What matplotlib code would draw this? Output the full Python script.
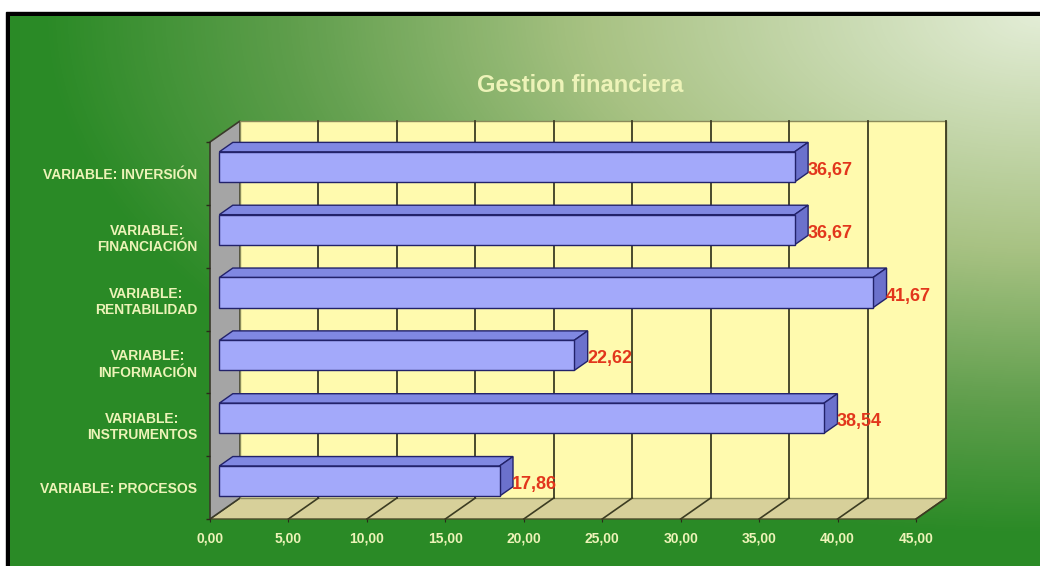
import numpy as np
import matplotlib.pyplot as plt
from matplotlib.patches import Polygon, Rectangle
from matplotlib.colors import LinearSegmentedColormap

plt.rcParams["font.family"] = ["Liberation Sans", "DejaVu Sans"]

categorias = [
    "VARIABLE: INVERSIÓN",
    "VARIABLE:\nFINANCIACIÓN",
    "VARIABLE:\nRENTABILIDAD",
    "VARIABLE:\nINFORMACIÓN",
    "VARIABLE:\nINSTRUMENTOS",
    "VARIABLE: PROCESOS",
]
valores = [36.67, 36.67, 41.67, 22.62, 38.54, 17.86]
x_ticks = [0, 5, 10, 15, 20, 25, 30, 35, 40, 45]
titulo = "Gestion financiera"

W, H = 1040, 566
DEPTH_PX = (30, 21)          # profundidad del efecto 3D en pixeles
BAR_FRONT, BAR_BACK = 0.31, 0.76
BAR_H = 0.48

TXT = "#edf3b8"
EDGE = "#22226a"


def fmt(v):
    return f"{v:.2f}".replace(".", ",")


fig = plt.figure(figsize=(W / 100, H / 100), dpi=100)
fig.patch.set_facecolor("white")

# fondo con degradado verde
bg = fig.add_axes([0, 0, 1, 1])
bg.axis("off")
bg.add_patch(Rectangle((6, 12), W - 6, H - 12, color="black", zorder=0))
gx, gy = np.meshgrid(np.arange(10, W), np.arange(16, H))
t = np.sqrt(((W - gx) / 1000.0) ** 2 + ((gy - 15) / 520.0) ** 2)
cmap = LinearSegmentedColormap.from_list(
    "verde", [(0, "#e3edd6"), (0.45, "#a8c283"), (0.75, "#5f9e4c"), (1, "#2a8a26")])
bg.imshow(np.clip(t, 0, 1), cmap=cmap, vmin=0, vmax=1, extent=(10, W, H, 16),
          aspect="auto", interpolation="bilinear", zorder=1)
bg.set_xlim(0, W)
bg.set_ylim(H, 0)

fig.text(580 / W, 1 - 85 / H, titulo, ha="center", va="center",
         fontsize=17, fontweight="bold", color=TXT)

ax = fig.add_axes([210 / W, (H - 519) / H, 706 / W, 377 / H])
ax.set_xlim(0, 45)
ax.set_ylim(0, 6)
ax.patch.set_visible(False)
for s in ax.spines.values():
    s.set_visible(False)

# desplazamiento de profundidad en unidades de datos
inv = ax.transData.inverted()
p0 = ax.transData.transform((0, 0))
dx, dy = inv.transform(p0 + np.array(DEPTH_PX)) - inv.transform(p0)

xmax, ymax = ax.get_xlim()[1], ax.get_ylim()[1]

# suelo, pared lateral y pared de fondo
ax.add_patch(Polygon([(0, 0), (xmax, 0), (xmax + dx, dy), (dx, dy)],
                     facecolor="#d7d09a", edgecolor="#4a4a2a", lw=1, clip_on=False, zorder=1))
ax.add_patch(Polygon([(0, 0), (0, ymax), (dx, ymax + dy), (dx, dy)],
                     facecolor="#a5a5a5", edgecolor="#3a3a2a", lw=1.2, clip_on=False, zorder=1))
ax.add_patch(Rectangle((dx, dy), xmax, ymax, facecolor="#fffaae",
                       edgecolor="#8a8a5a", lw=1, clip_on=False, zorder=1))
for xv in x_ticks[1:]:
    ax.plot([xv + dx, xv + dx], [dy, ymax + dy], color="#3c3c22", lw=1.3,
            clip_on=False, zorder=2)
    ax.plot([xv, xv + dx], [0, dy], color="#3c3c22", lw=1.2, clip_on=False, zorder=2)

# barras 3D
centros = np.arange(len(valores))[::-1] + 0.5
fx, fy = dx * BAR_FRONT, dy * BAR_FRONT
bx, by = dx * BAR_BACK, dy * BAR_BACK
for c, v in zip(centros, valores):
    y0, y1 = c - BAR_H / 2, c + BAR_H / 2
    ax.add_patch(Polygon([(fx, y1 + fy), (v + fx, y1 + fy), (v + bx, y1 + by), (bx, y1 + by)],
                         facecolor="#8088e2", edgecolor=EDGE, lw=1, clip_on=False, zorder=3))
    ax.add_patch(Polygon([(v + fx, y0 + fy), (v + fx, y1 + fy), (v + bx, y1 + by), (v + bx, y0 + by)],
                         facecolor="#6b71cc", edgecolor=EDGE, lw=1, clip_on=False, zorder=3))
    ax.add_patch(Rectangle((fx, y0 + fy), v, BAR_H, facecolor="#a3a9fa",
                           edgecolor=EDGE, lw=1, clip_on=False, zorder=4))
    ax.annotate(fmt(v), xy=(v, c), xytext=(22, 3), textcoords="offset pixels",
                ha="left", va="center", fontsize=13, fontweight="bold",
                color="#e2361c", zorder=6, annotation_clip=False)

ax.set_yticks(centros)
ax.set_yticklabels(categorias)
for lab in ax.get_yticklabels():
    lab.set_multialignment("center")
ax.set_yticks(np.arange(0, 7), minor=True)
ax.tick_params(axis="y", which="major", length=0, pad=9, labelsize=10,
               labelcolor=TXT)
ax.tick_params(axis="y", which="minor", length=3, color="#2a2a1a", width=1)
for lab in ax.get_yticklabels():
    lab.set_fontweight("bold")

ax.set_xticks(x_ticks)
ax.set_xticklabels([fmt(x) for x in x_ticks])
ax.tick_params(axis="x", length=2, color="#2a2a1a", pad=7, labelsize=10,
               labelcolor=TXT)
for lab in ax.get_xticklabels():
    lab.set_fontweight("bold")

fig.savefig("out.png", dpi=100)
